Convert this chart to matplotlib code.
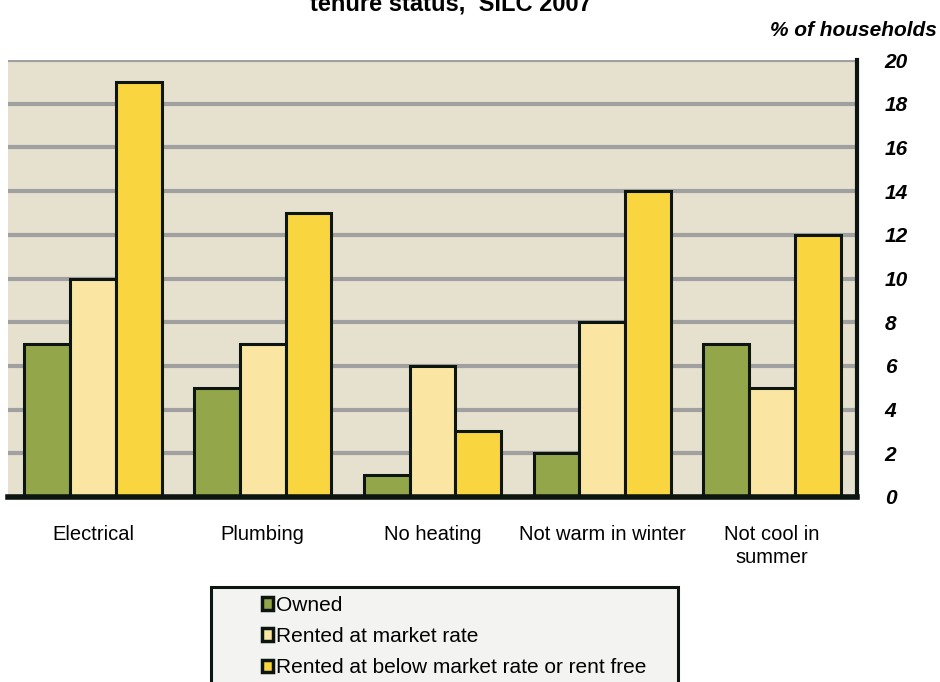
"""Housing problems by tenure status, SILC 2007: grouped bar chart."""

import matplotlib
matplotlib.use('Agg')
import matplotlib.pyplot as plt
from matplotlib.patches import Patch, Rectangle
import numpy as np

plt.rcParams['font.family'] = ['Liberation Sans', 'DejaVu Sans']

categories = ['Electrical', 'Plumbing', 'No heating', 'Not warm in winter', 'Not cool in\nsummer']
tenure = ['Owned', 'Rented at market rate', 'Rented at below market rate or rent free']
owned = [7, 5, 1, 2, 7]
rented_market = [10, 7, 6, 8, 5]
rented_below = [19, 13, 3, 14, 12]
y_ticks = [0, 2, 4, 6, 8, 10, 12, 14, 16, 18, 20]

colours = ['#94a64a', '#fae6a2', '#f9d63f']
edge = '#0d1510'

fig = plt.figure(figsize=(9.4, 6.82), dpi=100)
ax = fig.add_axes([8 / 940, 185 / 682, 849 / 940, 437 / 682])
ax.set_facecolor('#e6e0cf')

positions = np.arange(len(categories))
width = 0.27
for i, (values, colour) in enumerate(zip([owned, rented_market, rented_below], colours)):
    ax.bar(positions + (i - 1) * width, values, width, color=colour,
           edgecolor=edge, linewidth=2.2, zorder=3)

ax.set_xlim(-0.5, len(categories) - 0.5)
ax.set_ylim(0, 20)
ax.set_yticks(y_ticks)
ax.yaxis.tick_right()
ax.tick_params(axis='y', length=0, pad=20)
for label in ax.get_yticklabels():
    label.set_fontsize(15)
    label.set_fontweight('bold')
    label.set_fontstyle('italic')
ax.set_xticks(positions)
ax.set_xticklabels(categories, fontsize=14.5, linespacing=1.25)
ax.tick_params(axis='x', length=0, pad=20)
ax.grid(axis='y', color='#a0a0a0', linewidth=3, zorder=1)
ax.set_axisbelow(True)

for side in ['top', 'left']:
    ax.spines[side].set_visible(False)
ax.spines['right'].set_linewidth(3)
ax.spines['right'].set_color(edge)
ax.spines['bottom'].set_linewidth(4)
ax.spines['bottom'].set_color(edge)
ax.spines['bottom'].set_zorder(4)

# title sits partly above the top edge of the figure
fig.text(451 / 940, 1 - 10 / 682, 'tenure status,  SILC 2007', ha='center',
         va='baseline', fontsize=17, fontweight='bold')
fig.text(1 - 3 / 940, 1 - 30 / 682, '% of households', ha='right', va='center',
         fontsize=15, fontweight='bold', fontstyle='italic')

# legend panel runs off the bottom edge of the figure
fig.patches.append(Rectangle((211 / 940, -0.05), 467 / 940, 0.05 + 95 / 682,
                             transform=fig.transFigure, facecolor='#f3f4f2',
                             edgecolor=edge, linewidth=2.2, zorder=0))
handles = [Patch(facecolor=c, edgecolor=edge, linewidth=2.5) for c in colours]
fig.legend(handles, tenure, loc='upper left', bbox_to_anchor=(262 / 940, 1 - 596 / 682),
           frameon=False, fontsize=15, handlelength=0.55, handleheight=0.55,
           handletextpad=0.12, labelspacing=0.58, borderaxespad=0, borderpad=0)

fig.savefig('out.png', dpi=100)
